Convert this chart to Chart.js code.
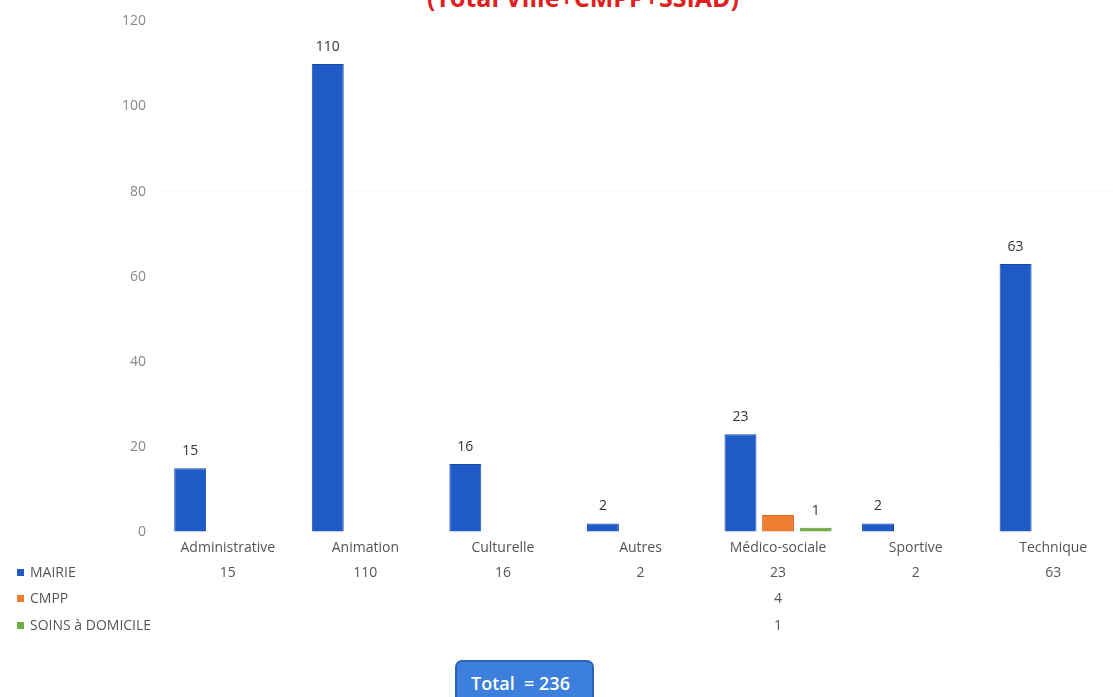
<!DOCTYPE html>
<html lang="fr">
<head>
  <meta charset="UTF-8">
  <title>Répartition par filière</title>
  <script src="https://cdn.jsdelivr.net/npm/chart.js"></script>
  <style>
    body { margin: 0; background: #fff; overflow: hidden; width: 1113px; height: 697px; position: relative; font-family: "Open Sans", sans-serif; }
    .titre { position: absolute; top: -16px; left: 0; width: 1166px; text-align: center; color: #e02020; font: bold 25px "Open Sans", sans-serif; line-height: 26px; }
    .graf { position: absolute; left: 0; top: 0; width: 1125px; height: 650px; }
    .total { position: absolute; left: 455px; top: 660px; width: 139px; height: 44px; box-sizing: border-box; background: #3c7fdc; border: 2px solid #2b62b8; border-radius: 7px; color: #fff; font: 600 18px "Open Sans", sans-serif; padding: 9px 0 0 14px; }
  </style>
</head>
<body>
  <div class="titre">(Total Ville+CMPP+SSIAD)</div>
  <div class="graf"><canvas id="barra"></canvas></div>
  <div class="total" id="total">Total&nbsp; = 236</div>

<script>
// categorias e series
var filieres = ['Administrative', 'Animation', 'Culturelle', 'Autres', 'Médico-sociale', 'Sportive', 'Technique'];
var mairie = [15, 110, 16, 2, 23, 2, 63];
var cmpp = [null, null, null, null, 4, null, null];
var soins = [null, null, null, null, 1, null, null];
var yTicks = [0, 20, 40, 60, 80, 100, 120];

var cores = ['#1e5bc6', '#ed7d31', '#70ad47'];

// total geral
var soma = 0;
[mairie, cmpp, soins].forEach(function (s) { s.forEach(function (v) { soma += v || 0; }); });
document.getElementById('total').innerHTML = 'Total&nbsp; = ' + soma;

// tabela de dados sob o eixo + rotulos acima das barras
var tabela = {
  id: 'tabela',
  afterDatasetsDraw: function (chart) {
    var ctx = chart.ctx;
    var x = chart.scales.x;
    var baixo = chart.chartArea.bottom;
    ctx.save();
    ctx.font = '14px "Open Sans", sans-serif';
    ctx.textBaseline = 'middle';

    // rotulos
    chart.data.datasets.forEach(function (ds, d) {
      if (ds.semRotulo) return;
      var meta = chart.getDatasetMeta(d);
      ds.data.forEach(function (v, i) {
        if (v == null) return;
        var bar = meta.data[i];
        ctx.fillStyle = '#333';
        ctx.textAlign = 'center';
        ctx.fillText(v, bar.x, bar.y - 17);
      });
    });

    // linhas da tabela
    var linhas = [41, 67, 94];
    chart.data.datasets.forEach(function (ds, d) {
      var y = baixo + linhas[d];
      ctx.fillStyle = ds.backgroundColor;
      ctx.fillRect(17, y - 4, 7, 7);
      ctx.fillStyle = '#555';
      ctx.textAlign = 'left';
      ctx.fillText(ds.label, 30, y);
      ctx.textAlign = 'center';
      ds.data.forEach(function (v, i) {
        if (v == null) return;
        ctx.fillText(v, x.getPixelForValue(i), y);
      });
    });
    ctx.restore();
  }
};

var ctx = document.getElementById('barra').getContext('2d');
var myChart = new Chart(ctx, {
  type: 'bar',
  data: {
    labels: filieres,
    datasets: [
      { label: 'MAIRIE', data: mairie, backgroundColor: cores[0], borderColor: '#1a4aa0', borderWidth: 1 },
      { label: 'CMPP', data: cmpp, backgroundColor: cores[1], borderColor: '#d86a20', borderWidth: 1, semRotulo: true },
      { label: 'SOINS à DOMICILE', data: soins, backgroundColor: cores[2], borderColor: '#5e9a3a', borderWidth: 1 }
    ]
  },
  options: {
    responsive: true,
    maintainAspectRatio: false,
    animation: false,
    layout: { padding: { top: 18, right: 3, left: 0, bottom: 0 } },
    plugins: { legend: { display: false }, tooltip: { enabled: false } },
    datasets: { bar: { categoryPercentage: 0.82, barPercentage: 0.85, skipNull: false } },
    scales: {
      x: {
        grid: { display: false },
        border: { display: false },
        ticks: { color: '#555', font: { size: 14, family: 'Open Sans' }, padding: 0, maxRotation: 0 },
        afterFit: function (s) { s.height = 118; }
      },
      y: {
        min: 0, max: 120,
        afterBuildTicks: function (s) { s.ticks = yTicks.map(function (v) { return { value: v }; }); },
        grid: { color: 'rgba(0,0,0,0.025)', drawTicks: false },
        border: { display: false },
        ticks: { color: '#888', font: { size: 14, family: 'Open Sans' }, padding: 13 },
        afterFit: function (s) { s.width = 159; }
      }
    }
  },
  plugins: [tabela]
});
</script>
</body>
</html>
